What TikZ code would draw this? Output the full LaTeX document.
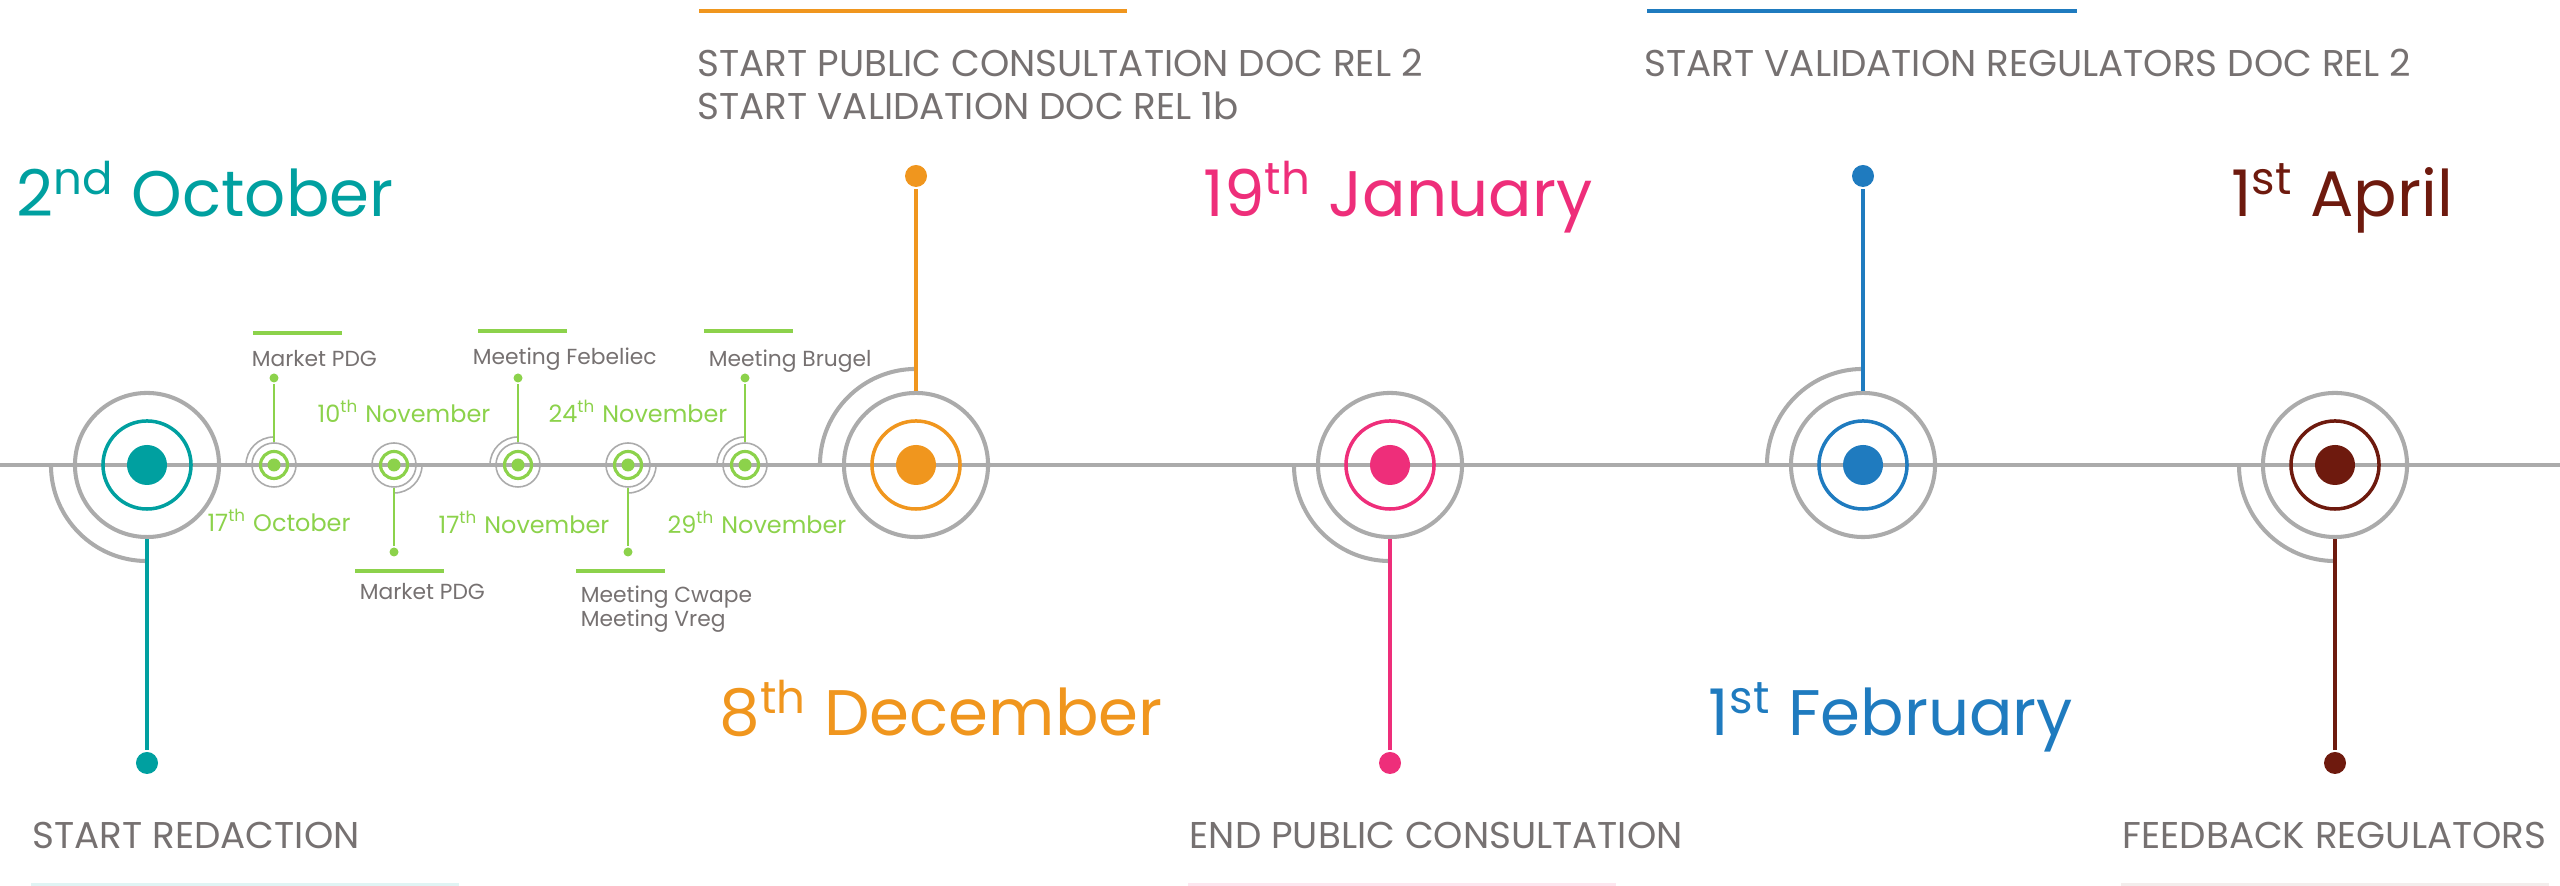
\documentclass[tikz,border=0pt]{standalone}
\usepackage{fontspec}
\setmainfont{Poppins}
\definecolor{cteal}{HTML}{00A0A0}
\definecolor{corange}{HTML}{F0961E}
\definecolor{cpink}{HTML}{EE2E7A}
\definecolor{cblue}{HTML}{1F7BBF}
\definecolor{cbrown}{HTML}{6E1A0E}
\definecolor{cgreen}{HTML}{8CD24B}
\definecolor{cline}{HTML}{ABABAB}
\definecolor{ctext}{HTML}{767171}
\tikzset{
every picture/.style={line width=1pt},
tline/.style={draw=cline, line width=1.1pt},
ring/.style={circle, draw=cline, line width=1.15pt, minimum size=1.44cm, inner sep=0pt},
cring/.style={circle, draw=#1, line width=1pt, minimum size=0.88cm, inner sep=0pt},
bigdot/.style={circle, fill=#1, minimum size=0.4cm, inner sep=0pt},
enddot/.style={circle, fill=#1, minimum size=0.22cm, inner sep=0pt},
sring/.style={circle, draw=cline, line width=0.45pt, minimum size=0.44cm, inner sep=0pt},
sgreen/.style={circle, draw=cgreen, line width=0.9pt, minimum size=0.27cm, inner sep=0pt},
sdot/.style={circle, fill=cgreen, minimum size=0.13cm, inner sep=0pt},
bigdate/.style={font=\fontsize{18.3}{22}\selectfont, text=#1, anchor=base, inner sep=0pt},
caption/.style={font=\fontsize{10.6}{12.5}\selectfont, text=ctext, anchor=base west, inner sep=0pt, align=left},
smalldate/.style={font=\fontsize{6.8}{8}\selectfont, text=cgreen, anchor=base, inner sep=0pt},
smalltext/.style={font=\fontsize{6.2}{7.1}\selectfont, text=ctext, anchor=base west, inner sep=0pt, align=left},
bar/.style={draw=#1, line width=1.15pt}
}

\begin{document}
\begin{tikzpicture}[x=0.01cm, y=0.01cm]
\useasboundingbox (0,-421) rectangle (2560,465);
\coordinate (t0) at (0,0);
\coordinate (t1) at (2560,0);
\draw[tline] (t0) -- (t1);

\foreach \x/\c/\s/\ey [count=\ai] in {147/cteal/-1/-298, 916/corange/1/289, 1390/cpink/-1/-298, 1863/cblue/1/289, 2335/cbrown/-1/-298}{
  \node[ring] (r\ai) at (\x,0) {};
  \node[cring=\c] (c\ai) at (\x,0) {};
  \node[bigdot=\c] (d\ai) at (\x,0) {};
  \node[enddot=\c] (e\ai) at (\x,\ey) {};
  \draw[cline, line width=1.15pt] (\x,0) ++(180:0.96cm) arc[start angle=180, end angle={180-90*\s}, radius=0.96cm];
  \draw[\c] (r\ai) -- (e\ai);
}

\foreach \x/\s [count=\ai] in {274/1, 394/-1, 518/1, 628/-1, 745/1}{
  \pgfmathsetmacro\st{45+45*\s}
  \node[sring] (sr\ai) at (\x,0) {};
  \node[sgreen] (sg\ai) at (\x,0) {};
  \node[sdot] (sd\ai) at (\x,0) {};
  \node[sdot, minimum size=0.09cm] (se\ai) at (\x,\s*87) {};
  \draw[cline, line width=0.45pt] (\x,0) ++(\st:0.28cm) arc[start angle=\st, end angle={\st+90*\s}, radius=0.28cm];
  \draw[cgreen, line width=0.5pt] (sr\ai) -- (se\ai);
}

\foreach \x/\y/\c/\t [count=\ai] in {205/248/cteal/{2\textsuperscript{nd} October}, 941/-271/corange/{8\textsuperscript{th} December}, 1398/248/cpink/{19\textsuperscript{th} January}, 1891/-271/cblue/{1\textsuperscript{st} February}, 2342/248/cbrown/{1\textsuperscript{st} April}}
  \node[bigdate=\c] (bd\ai) at (\x,\y) {\t};

\foreach \x/\y/\t [count=\ai] in {279/-67/{17\textsuperscript{th} October}, 404/42/{10\textsuperscript{th} November}, 524/-69/{17\textsuperscript{th} November}, 638/42/{24\textsuperscript{th} November}, 757/-69/{29\textsuperscript{th} November}}
  \node[smalldate] (sdate\ai) at (\x,\y) {\t};

\foreach \x/\y/\t [count=\ai] in {250/98/{Market PDG}, 358/-135/{Market PDG}, 471/100/{Meeting Febeliec}, 579/-162/{Meeting Cwape\\Meeting Vreg}, 707/98/{Meeting Brugel}}
  \node[smalltext] (stxt\ai) at (\x,\y) {\t};

\foreach \x/\y in {253/132, 355/-106, 478/134, 576/-106, 704/134}
  \draw[bar=cgreen] (\x,\y) -- ++(89,0);

\node[caption] (top1) at (696,345) {START PUBLIC CONSULTATION DOC REL 2\\START VALIDATION DOC REL 1b};
\node[caption] (top2) at (1643,388) {START VALIDATION REGULATORS DOC REL 2};
\node[caption] (bot1) at (31,-384) {START REDACTION};
\node[caption] (bot2) at (1188,-384) {END PUBLIC CONSULTATION};
\node[caption] (bot3) at (2121,-384) {FEEDBACK REGULATORS};

\draw[bar=corange] (699,454) -- (1127,454);
\draw[bar=cblue] (1647,454) -- (2077,454);
\draw[bar=cteal!12] (31,-420) -- ++(428,0);
\draw[bar=cpink!12] (1188,-420) -- ++(428,0);
\draw[bar=cbrown!8] (2121,-420) -- ++(428,0);
\end{tikzpicture}
\end{document}
